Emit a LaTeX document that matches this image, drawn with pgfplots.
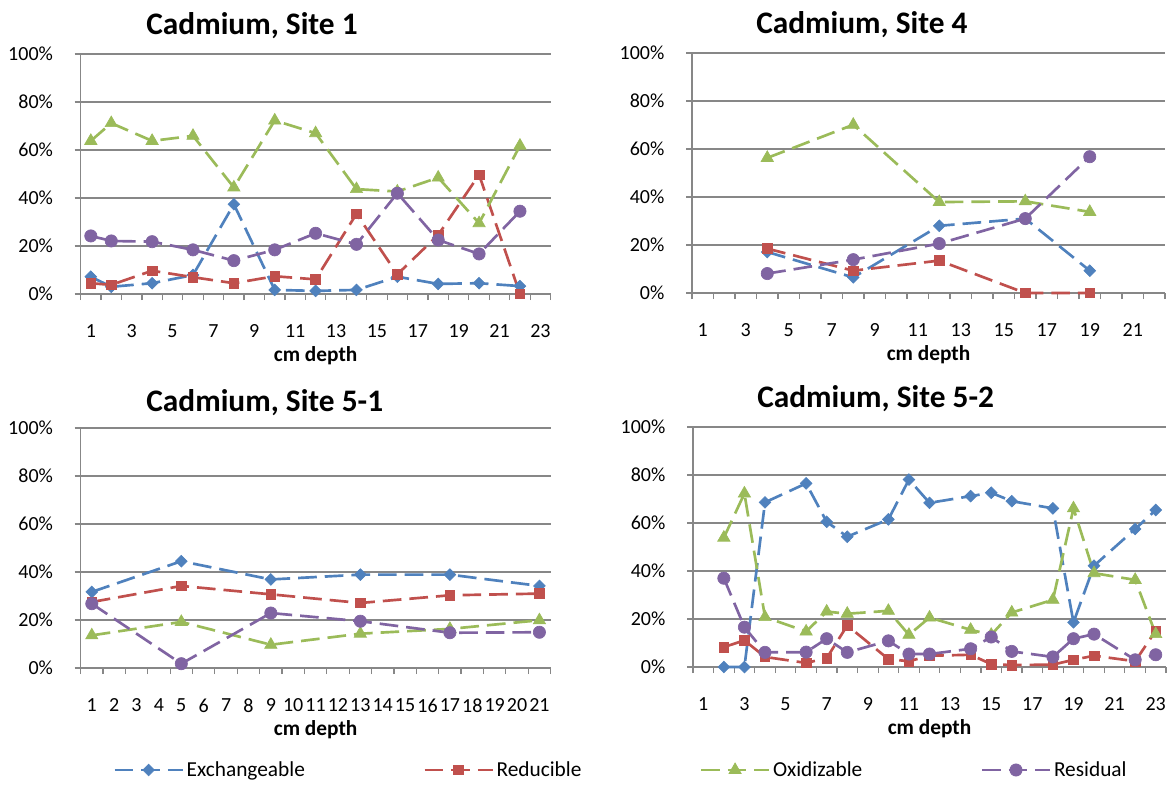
\documentclass[border=0pt]{standalone}
\usepackage{pgfplots}
\pgfplotsset{compat=1.18}
\usepackage{pgfplotstable}
\usepackage{fontspec}
\setmainfont{Carlito}
\definecolor{cEx}{HTML}{4F81BD}
\definecolor{cRe}{HTML}{C0504D}
\definecolor{cOx}{HTML}{9BBB59}
\definecolor{cRs}{HTML}{8064A2}
\definecolor{gridgray}{HTML}{878787}

\pgfplotstableread{
x ex re ox rs
1 7.2 4.5 63.8 24.2
2 3.0 3.8 71.2 22.1
4 4.5 9.7 63.8 21.8
6 7.9 7.0 65.9 18.4
8 37.4 4.5 44.4 13.9
10 1.7 7.4 72.3 18.4
12 1.3 6.1 67.0 25.3
14 1.7 33.4 43.7 20.7
16 7.2 8.2 42.7 42.0
18 4.2 24.6 48.5 22.5
20 4.5 49.7 29.5 16.7
22 3.3 0.0 61.8 34.5
}\siteone

\pgfplotstableread{
x ex re ox rs
4 17.1 18.5 56.3 8.1
8 6.5 9.3 70.1 13.9
12 28.0 13.5 37.9 20.6
16 31.0 0.0 38.2 31.0
19 9.3 0.0 33.8 56.8
}\sitefour

\pgfplotstableread{
x ex re ox rs
1 31.7 27.5 13.6 26.8
5 44.5 34.2 19.2 1.8
9 36.9 30.7 9.7 22.9
13 38.9 27.1 14.3 19.5
17 38.9 30.3 16.3 14.7
21 34.2 31.0 19.9 14.9
}\sitefiveone

\pgfplotstableread{
x ex re ox rs
2 0.0 8.3 53.9 37.0
3 0.0 11.1 72.3 16.6
4 68.6 4.2 20.8 6.1
6 76.5 1.7 14.8 6.2
7 60.5 3.7 23.1 11.8
8 54.3 17.3 22.2 6.1
10 61.5 3.3 23.4 10.9
11 78.1 2.4 13.4 5.4
12 68.4 4.7 20.6 5.4
14 71.2 5.1 15.5 7.6
15 72.6 1.2 13.4 12.5
16 69.1 0.8 22.7 6.5
18 66.1 1.0 28.0 4.2
19 18.6 3.0 66.1 11.8
20 42.2 4.7 39.1 13.7
22 57.5 2.4 36.3 3.0
23 65.4 15.1 13.7 5.1
}\sitefivetwo

\pgfplotsset{
  siteaxis/.style={
    scale only axis, height=180pt,
    ymin=0, ymax=100, ytick={0,20,...,100},
    /pgf/number format/assume math mode=true,
    yticklabel={\pgfmathprintnumber{\tick}\%},
    axis x line*=bottom, axis y line*=left,
    axis line style={-, draw=gridgray, line width=0.9pt},
    ymajorgrids, grid style={draw=gridgray, line width=0.9pt},
    tick align=outside, major tick length=4.5pt, minor tick length=4.5pt,
    tick style={draw=gridgray, line width=0.9pt},
    major x tick style={draw=none},
    xmin=0.5,
    ticklabel style={font=\fontsize{15}{18}\selectfont},
    xticklabel style={yshift=-15pt},
    yticklabel style={xshift=-12.7pt},
    xlabel={cm depth},
    xlabel style={font=\bfseries\fontsize{16}{19}\selectfont, at={(axis description cs:0.5,-0.255)}, anchor=center},
    every axis title/.style={anchor=west, font=\bfseries\fontsize{23.5}{28}\selectfont},
    clip=false,
    every axis plot/.append style={line width=2pt, dash pattern=on 14pt off 6pt},
    legend image code/.code={\draw[mark repeat=2,mark phase=2,##1] plot coordinates {(0pt,0pt) (25.5pt,0pt) (51pt,0pt)};},
  },
  sEx/.style={color=cEx, mark=square*, mark size=3.1pt, mark options={solid, rotate=45, line width=0.5pt, fill=cEx}},
  sRe/.style={color=cRe, mark=square*, mark size=3.6pt, mark options={solid, line width=0.5pt, fill=cRe}},
  sOx/.style={color=cOx, mark=triangle*, mark size=5.3pt, mark options={solid, line width=0.5pt, fill=cOx}},
  sRs/.style={color=cRs, mark=*, mark size=4.6pt, mark options={solid, line width=0.5pt, fill=cRs}},
}

\begin{document}
\begin{tikzpicture}
\path[use as bounding box] (0pt,0pt) rectangle (876.75pt,-588.75pt);

% Site 1
\begin{axis}[siteaxis, width=352.5pt, at={(60.45pt,-220.5pt)}, anchor=south west,
  xmax=23.5, xtick={1,3,...,23}, minor xtick={0.5,1.5,...,23.5},
  title={Cadmium, Site 1}, title style={at={(axis description cs:0.130,1.117)}}]
\addplot[sEx] table[x=x,y=ex] {\siteone};
\addplot[sRe] table[x=x,y=re] {\siteone};
\addplot[sOx] table[x=x,y=ox] {\siteone};
\addplot[sRs] table[x=x,y=rs] {\siteone};
\end{axis}

% Site 4
\begin{axis}[siteaxis, width=354.75pt, at={(519pt,-219.75pt)}, anchor=south west,
  xmax=22.5, xtick={1,3,...,21}, minor xtick={0.5,1.5,...,22.5},
  title={Cadmium, Site 4}, title style={at={(axis description cs:0.126,1.117)}}]
\addplot[sEx] table[x=x,y=ex] {\sitefour};
\addplot[sRe] table[x=x,y=re] {\sitefour};
\addplot[sOx] table[x=x,y=ox] {\sitefour};
\addplot[sRs] table[x=x,y=rs] {\sitefour};
\end{axis}

% Site 5-1
\begin{axis}[siteaxis, width=352.5pt, at={(60.45pt,-501pt)}, anchor=south west,
  xmax=21.5, xtick={1,2,...,21}, minor xtick={0.5,1.5,...,21.5},
  title={Cadmium, Site 5-1}, title style={at={(axis description cs:0.130,1.105)}},
  legend columns=4,
  legend style={draw=none, fill=none, inner sep=0pt, at={(axis description cs:0.069,-0.425)}, anchor=west,
    font=\fontsize{16}{19}\selectfont,
    /tikz/every even column/.append style={column sep=86.75pt}}]
\addplot[sEx] table[x=x,y=ex] {\sitefiveone};
\addplot[sRe] table[x=x,y=re] {\sitefiveone};
\addplot[sOx] table[x=x,y=ox] {\sitefiveone};
\addplot[sRs] table[x=x,y=rs] {\sitefiveone};
\legend{Exchangeable,Reducible,Oxidizable,Residual}
\end{axis}

% Site 5-2
\begin{axis}[siteaxis, width=354.75pt, at={(519.75pt,-500.25pt)}, anchor=south west,
  xmax=23.5, xtick={1,3,...,23}, minor xtick={0.5,1.5,...,23.5},
  title={Cadmium, Site 5-2}, title style={at={(axis description cs:0.126,1.117)}}]
\addplot[sEx] table[x=x,y=ex] {\sitefivetwo};
\addplot[sRe] table[x=x,y=re] {\sitefivetwo};
\addplot[sOx] table[x=x,y=ox] {\sitefivetwo};
\addplot[sRs] table[x=x,y=rs] {\sitefivetwo};
\end{axis}
\end{tikzpicture}
\end{document}
